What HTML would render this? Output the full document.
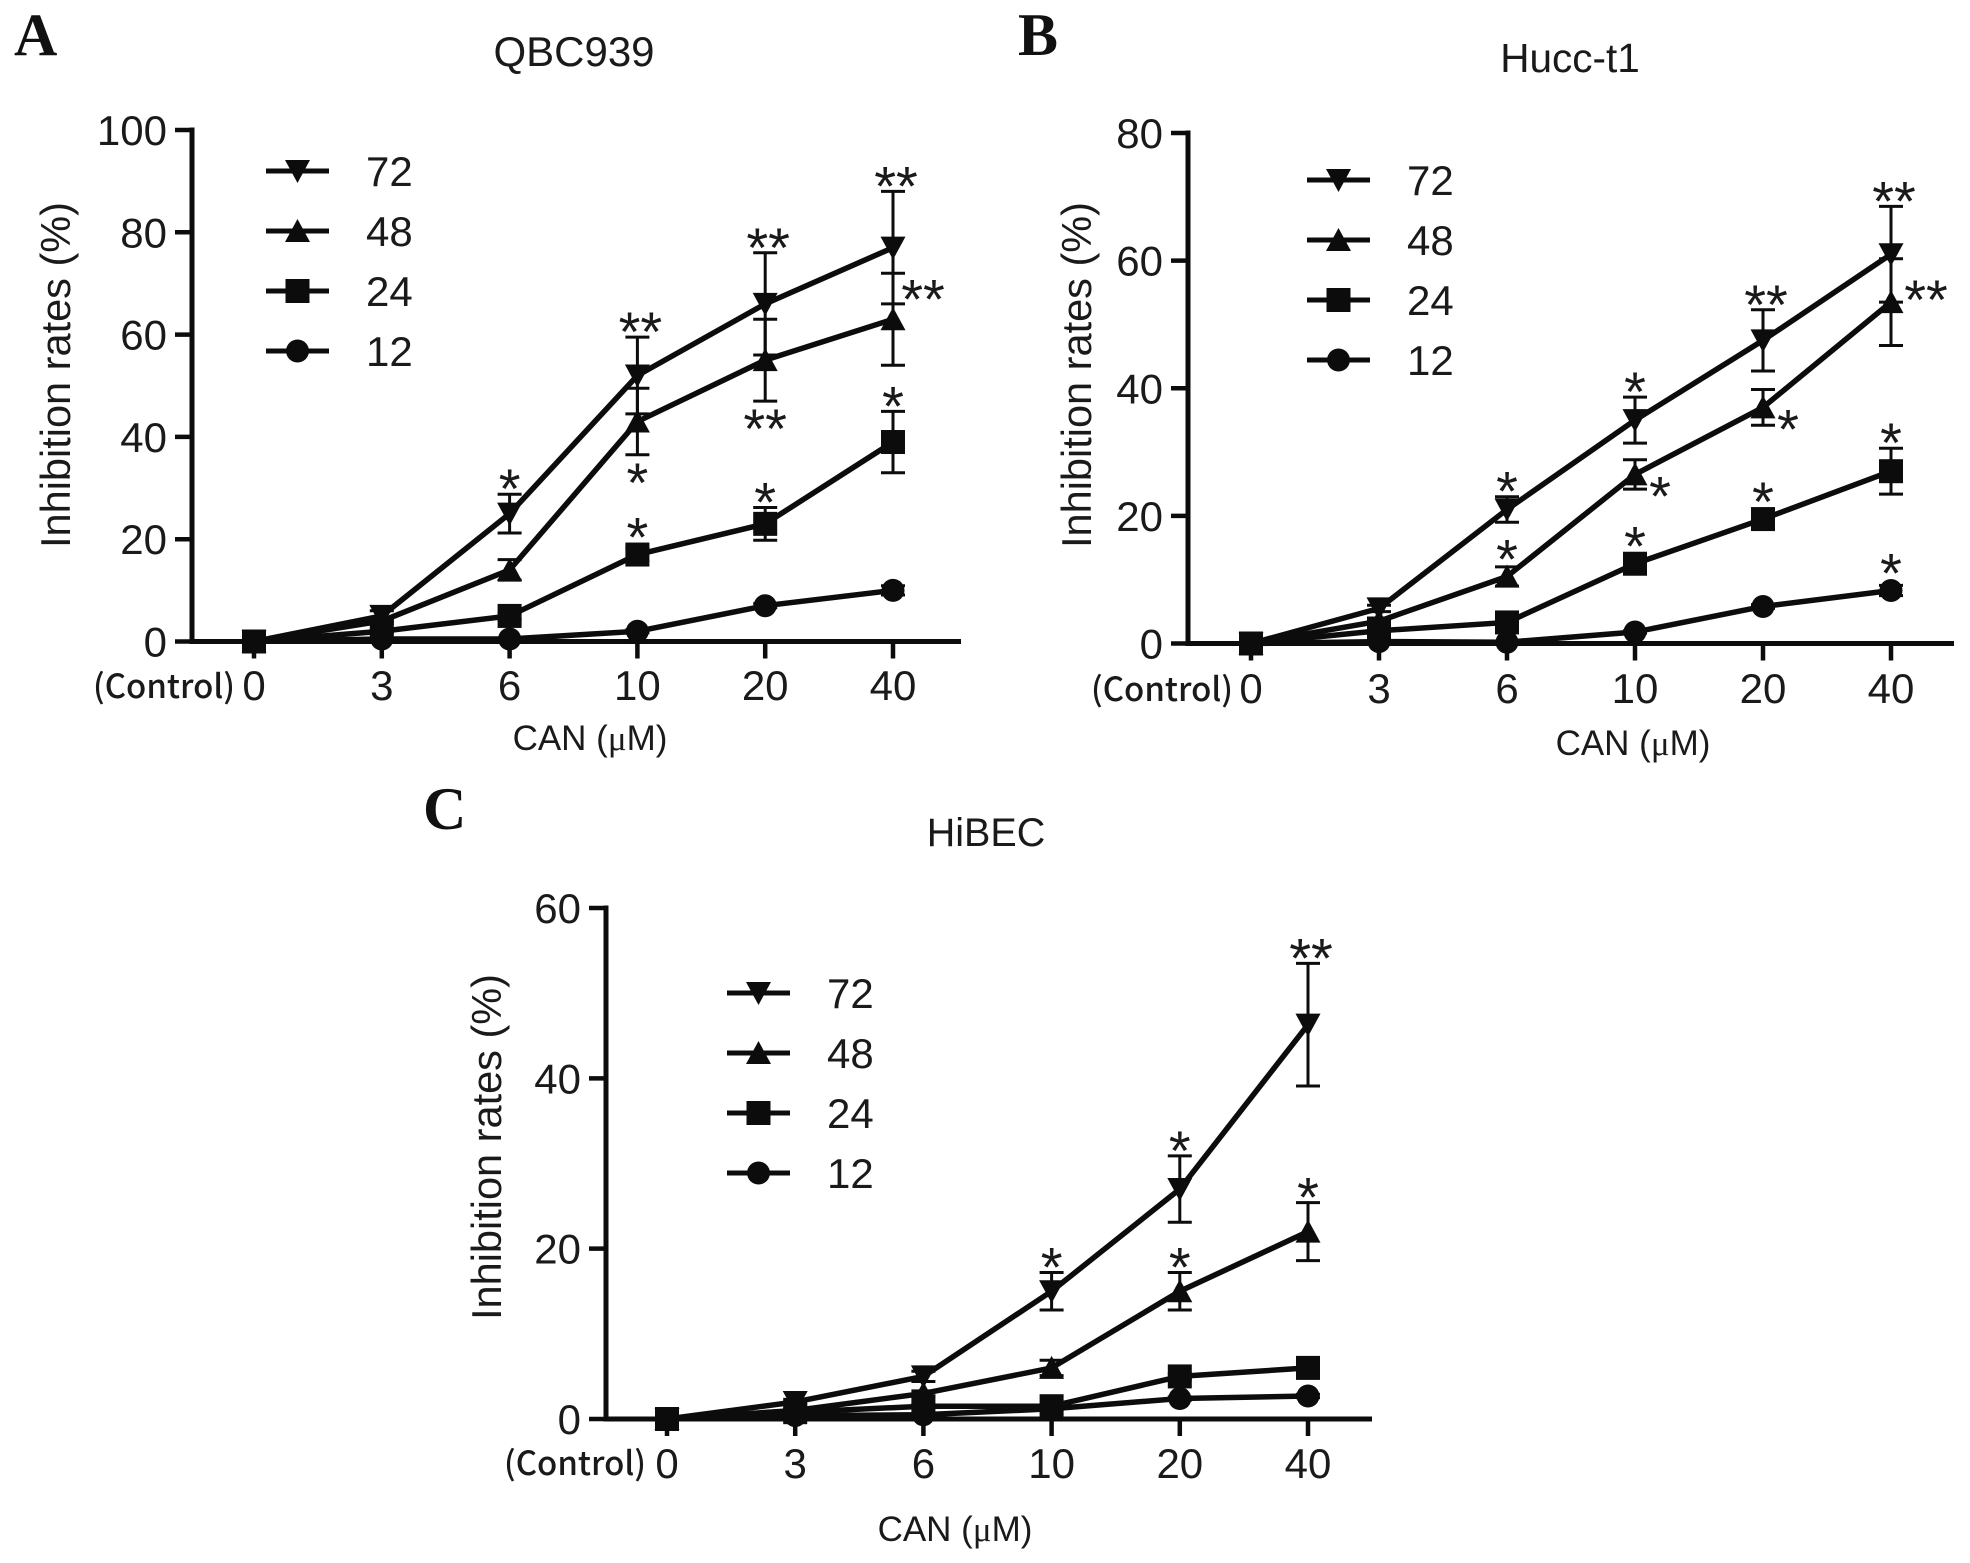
<!DOCTYPE html>
<html lang="en">
<head>
<meta charset="utf-8">
<title>CAN inhibition rates</title>
<style>
html,body{margin:0;padding:0;background:#fff}
svg{display:block}
text{font-family:"Liberation Sans",sans-serif;fill:#1a1a1a}
.letter{font-family:"Liberation Serif",serif;font-weight:bold;font-size:60px;fill:#111}
.title{text-anchor:middle}
.ytitle{font-size:41.5px;text-anchor:middle}
.xtitle{font-size:35px;text-anchor:middle}
.ctrl{font-family:"Noto Sans CJK KR","Liberation Sans",sans-serif;font-size:33px;text-anchor:end;font-weight:500}
.mu{font-family:"Liberation Serif",serif}
</style>
</head>
<body>
<svg id="figure" xmlns="http://www.w3.org/2000/svg" width="1970" height="1563" viewBox="0 0 1970 1563">
  <rect width="1970" height="1563" fill="#fff"/>
  <g id="panel-a">
    <text class="letter" x="14" y="55">A</text>
    <text class="title" font-size="42" x="574" y="66">QBC939</text>
    <text class="ytitle" transform="translate(70,375) rotate(-90)">Inhibition rates (%)</text>
    <text class="xtitle" x="590" y="750">CAN (<tspan class="mu">&#956;</tspan>M)</text>
    <text class="ctrl" x="235" y="698">(Control)</text>
  </g>
  <g id="panel-b">
    <text class="letter" x="1018" y="55">B</text>
    <text class="title" font-size="40.5" x="1570" y="72">Hucc-t1</text>
    <text class="ytitle" transform="translate(1091,375) rotate(-90)">Inhibition rates (%)</text>
    <text class="xtitle" x="1633" y="755">CAN (<tspan class="mu">&#956;</tspan>M)</text>
    <text class="ctrl" x="1233" y="701">(Control)</text>
  </g>
  <g id="panel-c">
    <text class="letter" x="423" y="829">C</text>
    <text class="title" font-size="39.5" x="986" y="846">HiBEC</text>
    <text class="ytitle" transform="translate(501,1147) rotate(-90)">Inhibition rates (%)</text>
    <text class="xtitle" x="955" y="1541">CAN (<tspan class="mu">&#956;</tspan>M)</text>
    <text class="ctrl" x="646" y="1475">(Control)</text>
  </g>
</svg>
<script>
const categories = ["0", "3", "6", "10", "20", "40"];
const seriesNames = ["72", "48", "24", "12"];

const ticksA = [0, 20, 40, 60, 80, 100];
const a72 = [0, 5, 25, 52, 66, 77];
const a48 = [0, 4, 14, 43, 55, 63];
const a24 = [0, 2, 5, 17, 23, 39];
const a12 = [0, 0.5, 0.5, 2, 7, 10];
const errA72 = [0, 1, 3.8, 7.5, 10, 11];
const errA48 = [0, 0.5, 2, 6.5, 8, 9];
const errA24 = [0, 0.3, 0.7, 1.2, 3.2, 6];
const errA12 = [0, 0, 0, 0.3, 0.4, 0.9];
const starsA = [["72",2,"*","top"],["72",3,"**","top"],["72",4,"**","top"],["72",5,"**","top"],["48",3,"*","bottom"],["48",4,"**","bottom"],["48",5,"**","upper-right"],["24",3,"*","top"],["24",4,"*","top"],["24",5,"*","top"]];

const ticksB = [0, 20, 40, 60, 80];
const b72 = [0, 5.5, 21, 35, 47.5, 61];
const b48 = [0, 3.5, 10.5, 26.5, 37, 53.5];
const b24 = [0, 2, 3.3, 12.5, 19.5, 27];
const b12 = [0, 0.3, 0.2, 1.8, 5.8, 8.3];
const errB72 = [0, 0.5, 2, 3.6, 4.8, 7.5];
const errB48 = [0, 0.5, 1.5, 2.3, 2.8, 6.8];
const errB24 = [0, 0.3, 0.5, 1, 1, 3.6];
const errB12 = [0, 0, 0, 0.2, 0.3, 0.8];
const starsB = [["72",2,"*","top"],["72",3,"*","top"],["72",4,"**","top"],["72",5,"**","top"],["48",2,"*","top"],["48",3,"*","right"],["48",4,"*","right"],["48",5,"**","beside"],["24",3,"*","top"],["24",4,"*","top"],["24",5,"*","top"],["12",5,"*","top"]];

const ticksC = [0, 20, 40, 60];
const c72 = [0, 2, 5, 15, 27, 46.3];
const c48 = [0, 1, 3, 6, 15, 22];
const c24 = [0, 0.8, 1.5, 1.5, 5, 6];
const c12 = [0, 0.4, 0.5, 1.2, 2.4, 2.7];
const errC72 = [0, 0.3, 0.6, 2.2, 3.9, 7.2];
const errC48 = [0, 0.2, 0.3, 0.9, 2.2, 3.4];
const errC24 = [0, 0.1, 0.2, 0.2, 0.3, 0.4];
const errC12 = [0, 0, 0.1, 0.1, 0.2, 0.2];
const starsC = [["72",3,"*","top"],["72",4,"*","top"],["72",5,"**","top"],["48",4,"*","top"],["48",5,"*","top"]];

const NS = "http://www.w3.org/2000/svg";
const INK = "#0c0c0c";

function make(parent, tag, props) {
  const el = document.createElementNS(NS, tag);
  for (const k in props) el.setAttribute(k, props[k]);
  parent.appendChild(el);
  return el;
}

function marker(parent, kind, cx, cy) {
  let el;
  if (kind === "72") {
    el = make(parent, "polygon", {points: (cx-12.5)+","+(cy-11)+" "+(cx+12.5)+","+(cy-11)+" "+cx+","+(cy+12), fill: INK});
  } else if (kind === "48") {
    el = make(parent, "polygon", {points: (cx-12.5)+","+(cy+11)+" "+(cx+12.5)+","+(cy+11)+" "+cx+","+(cy-12), fill: INK});
  } else if (kind === "24") {
    el = make(parent, "rect", {x: cx-12, y: cy-12, width: 24, height: 24, fill: INK});
  } else {
    el = make(parent, "circle", {cx: cx, cy: cy, r: 11.5, fill: INK});
  }
  return el;
}

function drawPanel(cfg) {
  const root = document.getElementById(cfg.id);
  const maxTick = cfg.ticks[cfg.ticks.length - 1];
  const xPos = i => cfg.x0 + i * cfg.dx;
  const yPos = v => cfg.y0 - (v / maxTick) * (cfg.y0 - cfg.yTop);

  const axes = make(root, "g", {});
  
  

  const yAxis = make(axes, "line", {x1: cfg.ax, x2: cfg.ax, y1: yPos(maxTick) - 2.5, y2: cfg.y0 + 2.5, stroke: INK, "stroke-width": 5});
  
  
  const xAxis = make(axes, "line", {x1: cfg.ax, x2: cfg.axEnd, y1: cfg.y0, y2: cfg.y0, stroke: INK, "stroke-width": 5});
  
  

  cfg.ticks.forEach(t => {
    const tick = make(axes, "line", {x1: cfg.ax - 17, x2: cfg.ax, y1: yPos(t), y2: yPos(t), stroke: INK, "stroke-width": 4.5});
    
    
    const label = make(axes, "text", {x: cfg.ax - 25, y: yPos(t) + 15, "text-anchor": "end", "font-size": 42});
    label.textContent = t;
    
    
  });

  categories.forEach((c, i) => {
    const tick = make(axes, "line", {x1: xPos(i), x2: xPos(i), y1: cfg.y0, y2: cfg.y0 + 17, stroke: INK, "stroke-width": 4.5});
    
    
    const label = make(axes, "text", {x: xPos(i), y: cfg.xLabelY, "text-anchor": "middle", "font-size": 42});
    label.textContent = c;
    
    
  });

  seriesNames.slice().reverse().forEach(name => {
    const values = cfg.values[name];
    const errs = cfg.errors[name];
    const g = make(root, "g", {});
    
    

    values.forEach((v, i) => {
      if (errs[i] <= 0) return;
      const x = xPos(i), hi = yPos(v + errs[i]), lo = yPos(v - errs[i]);
      const bar = make(g, "path", {d: "M"+x+" "+lo+"V"+hi+"M"+(x-12)+" "+hi+"H"+(x+12)+"M"+(x-12)+" "+lo+"H"+(x+12), stroke: INK, "stroke-width": 3, fill: "none"});
      
      
    });

    const line = make(g, "polyline", {points: values.map((v, i) => xPos(i) + "," + yPos(v)).join(" "), fill: "none", stroke: INK, "stroke-width": 5.5, "stroke-linejoin": "round"});
    
    

    values.forEach((v, i) => {
      const pt = marker(g, name, xPos(i), yPos(v));
      
      
    });
  });

  cfg.stars.forEach(s => {
    const v = cfg.values[s[0]][s[1]];
    const e = cfg.errors[s[0]][s[1]];
    const x = xPos(s[1]);
    let cx = x, cy;
    if (s[3] === "top") {
      cx = x + (s[2] === "**" ? 3 : 0);
      cy = Math.min(yPos(v + e), yPos(v) - 12) - 13;
    } else if (s[3] === "bottom") {
      cy = Math.max(yPos(v - e), yPos(v) + 12) + 20;
    } else if (s[3] === "upper-right") {
      cx = x + 30;
      cy = yPos(v) - 28;
    } else if (s[3] === "beside") {
      cx = x + 35;
      cy = yPos(v) - 10;
    } else {
      cx = x + 25;
      cy = yPos(v) + 14;
    }
    const star = make(root, "text", {x: cx, y: cy + 27, "text-anchor": "middle", "font-size": 56});
    star.textContent = s[2];
    
    
  });

  const legend = make(root, "g", {});
  
  
  seriesNames.forEach((name, r) => {
    const y = cfg.legY + r * cfg.legStep;
    const entry = make(legend, "g", {});
    
    
    make(entry, "line", {x1: cfg.legX, x2: cfg.legX + 63, y1: y, y2: y, stroke: INK, "stroke-width": 5});
    marker(entry, name, cfg.legX + 31.5, y);
    const t = make(entry, "text", {x: cfg.legX + 100, y: y + 15, "font-size": 42});
    t.textContent = name;
  });
}

drawPanel({id: "panel-a", ax: 192, axEnd: 961, x0: 254, dx: 127.8, y0: 641.5, yTop: 130, ticks: ticksA, xLabelY: 700,
  values: {"72": a72, "48": a48, "24": a24, "12": a12},
  errors: {"72": errA72, "48": errA48, "24": errA24, "12": errA12},
  stars: starsA, legX: 266, legY: 171, legStep: 60});
drawPanel({id: "panel-b", ax: 1188, axEnd: 1954, x0: 1251, dx: 128, y0: 643.5, yTop: 133, ticks: ticksB, xLabelY: 703,
  values: {"72": b72, "48": b48, "24": b24, "12": b12},
  errors: {"72": errB72, "48": errB48, "24": errB24, "12": errB12},
  stars: starsB, legX: 1307, legY: 180, legStep: 60});
drawPanel({id: "panel-c", ax: 606, axEnd: 1372, x0: 667, dx: 128.2, y0: 1419, yTop: 908, ticks: ticksC, xLabelY: 1478,
  values: {"72": c72, "48": c48, "24": c24, "12": c12},
  errors: {"72": errC72, "48": errC48, "24": errC24, "12": errC12},
  stars: starsC, legX: 727, legY: 993, legStep: 60});
</script>
</body>
</html>
